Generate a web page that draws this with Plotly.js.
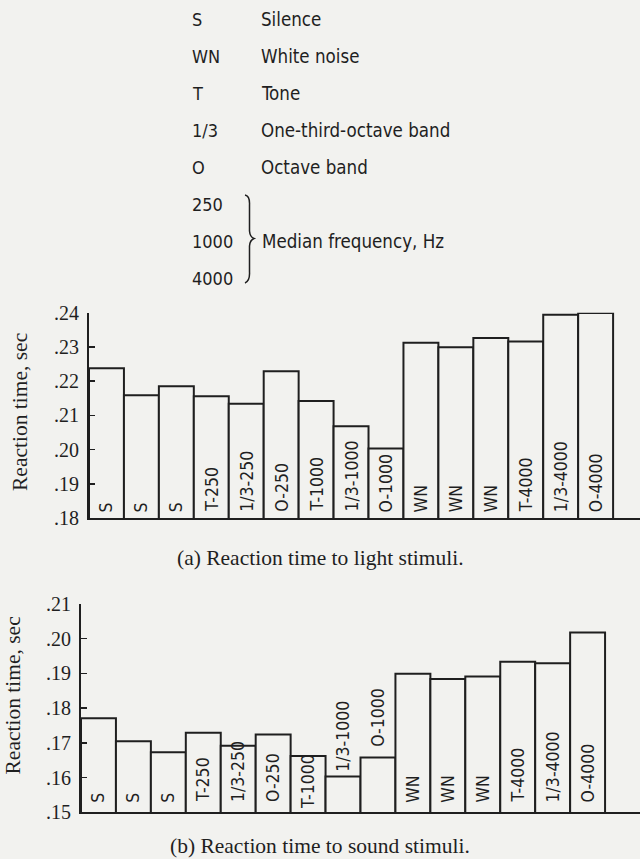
<!DOCTYPE html>
<html>
<head>
<meta charset="utf-8">
<script src="https://cdn.plot.ly/plotly-3.0.1.min.js"></script>
<style>
html, body { margin: 0; padding: 0; background: #f2f2ef; }
#chart { width: 640px; height: 859px; }
</style>
</head>
<body>
<div id="chart"></div>
<script>
// ---------------- data ----------------
const conditionLabels = ["S", "S", "S", "T-250", "1/3-250", "O-250", "T-1000", "1/3-1000", "O-1000",
                         "WN", "WN", "WN", "T-4000", "1/3-4000", "O-4000"];
const lightRT = [0.2238, 0.2159, 0.2185, 0.2156, 0.2134, 0.2229, 0.2142, 0.2068, 0.2003,
                 0.2312, 0.2299, 0.2326, 0.2316, 0.2394, 0.2399];
const soundRT = [0.1771, 0.1705, 0.1673, 0.1729, 0.1692, 0.1724, 0.1662, 0.1603, 0.1658,
                 0.1899, 0.1884, 0.1891, 0.1934, 0.1929, 0.2018];
const lightTickVals = [0.18, 0.19, 0.20, 0.21, 0.22, 0.23, 0.24];
const lightTickText = [".18", ".19", ".20", ".21", ".22", ".23", ".24"];
const soundTickVals = [0.15, 0.16, 0.17, 0.18, 0.19, 0.20, 0.21];
const soundTickText = [".15", ".16", ".17", ".18", ".19", ".20", ".21"];
const legendCodes = ["S", "WN", "T", "1/3", "O", "250", "1000", "4000"];
const legendDescs = ["Silence", "White noise", "Tone", "One-third-octave band", "Octave band"];
const frequencyDesc = "Median frequency, Hz";
const yTitleText = "Reaction time, sec";
const captionA = "(a) Reaction time to light stimuli.";
const captionB = "(b) Reaction time to sound stimuli.";

// ---------------- layout helpers ----------------
const W = 640, H = 859;
const px = x => x / W;
const py = y => 1 - y / H;
const INK = "#1f1f1f";
const BG = "#f2f2ef";
const SANS = "DejaVu Sans Condensed, DejaVu Sans, sans-serif";
const SERIF = "Liberation Serif, Times New Roman, serif";
const labelLiftA = conditionLabels.map(() => 5);
const labelLiftB = [9, 9, 9, 9, 9, 9, 2, 39, 65, 9, 9, 9, 9, 9, 9];

const idx = conditionLabels.map((_, i) => i);

function barTrace(vals, xa, ya) {
  return {
    type: "bar", x: idx, y: vals, xaxis: xa, yaxis: ya, width: 1,
    marker: { color: BG, line: { color: INK, width: 2 } },
    hoverinfo: "skip", showlegend: false
  };
}

const traces = [barTrace(lightRT, "x", "y"), barTrace(soundRT, "x2", "y2")];

const annotations = [];
// bar labels
conditionLabels.forEach((lab, i) => {
  annotations.push({ text: lab, x: i, xref: "x", y: 0, yref: "y domain", xanchor: "center", yanchor: "bottom",
    yshift: labelLiftA[i], textangle: -90, showarrow: false, borderpad: 0,
    font: { family: SANS, size: 17.5, color: INK } });
  annotations.push({ text: lab, x: i, xref: "x2", y: 0, yref: "y2 domain", xanchor: "center", yanchor: "bottom",
    yshift: labelLiftB[i], textangle: -90, showarrow: false, borderpad: 0,
    font: { family: SANS, size: 17.5, color: INK } });
});
// key / legend
const rowY = i => 19.5 + i * 37;
legendCodes.forEach((c, i) => {
  annotations.push({ text: c, x: px(191), y: py(rowY(i)), xref: "paper", yref: "paper", xanchor: "left", yanchor: "middle",
    showarrow: false, borderpad: 0, font: { family: SANS, size: 18, color: INK } });
});
legendDescs.forEach((d, i) => {
  annotations.push({ text: d, x: px(260), y: py(rowY(i)), xref: "paper", yref: "paper", xanchor: "left", yanchor: "middle",
    showarrow: false, borderpad: 0, font: { family: SANS, size: 18.6, color: INK } });
});
annotations.push({ text: frequencyDesc, x: px(261), y: py(rowY(6)), xref: "paper", yref: "paper", xanchor: "left", yanchor: "middle",
  showarrow: false, borderpad: 0, font: { family: SANS, size: 18.6, color: INK } });
// y titles
annotations.push({ text: yTitleText, x: px(20), y: py(412), xref: "paper", yref: "paper", xanchor: "center", yanchor: "middle",
  textangle: -90, showarrow: false, borderpad: 0, font: { family: SERIF, size: 21.5, color: INK } });
annotations.push({ text: yTitleText, x: px(12.5), y: py(696), xref: "paper", yref: "paper", xanchor: "center", yanchor: "middle",
  textangle: -90, showarrow: false, borderpad: 0, font: { family: SERIF, size: 21.5, color: INK } });
// captions
annotations.push({ text: captionA, x: 0.5, y: py(558), xref: "paper", yref: "paper", xanchor: "center", yanchor: "middle",
  showarrow: false, borderpad: 0, font: { family: SERIF, size: 21.5, color: INK } });
annotations.push({ text: captionB, x: 0.5, y: py(846), xref: "paper", yref: "paper", xanchor: "center", yanchor: "middle",
  showarrow: false, borderpad: 0, font: { family: SERIF, size: 21.5, color: INK } });

// brace
const braceX = 249.5;
const bracePath = [
  "M", px(245), py(195),
  "Q", px(250), py(196), px(braceX), py(205),
  "L", px(braceX), py(231),
  "Q", px(250), py(237), px(254), py(238.5),
  "Q", px(250), py(240), px(braceX), py(246),
  "L", px(braceX), py(272),
  "Q", px(250), py(281), px(245), py(283)
].join(" ");

const xCommon = { showline: true, linecolor: INK, linewidth: 2, showticklabels: false, ticks: "",
  showgrid: false, zeroline: false, fixedrange: true };
const yCommon = { showline: true, linecolor: INK, linewidth: 2, ticks: "inside", ticklen: 6, tickwidth: 1.5,
  tickcolor: INK, showgrid: false, zeroline: false, fixedrange: true, ticklabelstandoff: 4,
  tickfont: { family: SERIF, size: 20, color: INK } };

const layout = {
  width: W, height: H,
  margin: { l: 0, r: 0, t: 0, b: 0, pad: 0 },
  paper_bgcolor: BG, plot_bgcolor: BG,
  bargap: 0, showlegend: false,
  xaxis: Object.assign({}, xCommon, { domain: [px(89), 1], range: [-0.5, 15.27], anchor: "y" }),
  yaxis: Object.assign({}, yCommon, { domain: [py(518), py(312.7)], range: [0.18, 0.24], anchor: "x",
    tickvals: lightTickVals, ticktext: lightTickText }),
  xaxis2: Object.assign({}, xCommon, { domain: [px(81), 1], range: [-0.5, 15.5], anchor: "y2" }),
  yaxis2: Object.assign({}, yCommon, { domain: [py(812.3), py(604)], range: [0.15, 0.21], anchor: "x2",
    tickvals: soundTickVals, ticktext: soundTickText }),
  annotations: annotations,
  shapes: [{ type: "path", path: bracePath, xref: "paper", yref: "paper", line: { color: INK, width: 1.5 } }]
};

Plotly.newPlot("chart", traces, layout, { staticPlot: true, displayModeBar: false });
</script>
</body>
</html>
